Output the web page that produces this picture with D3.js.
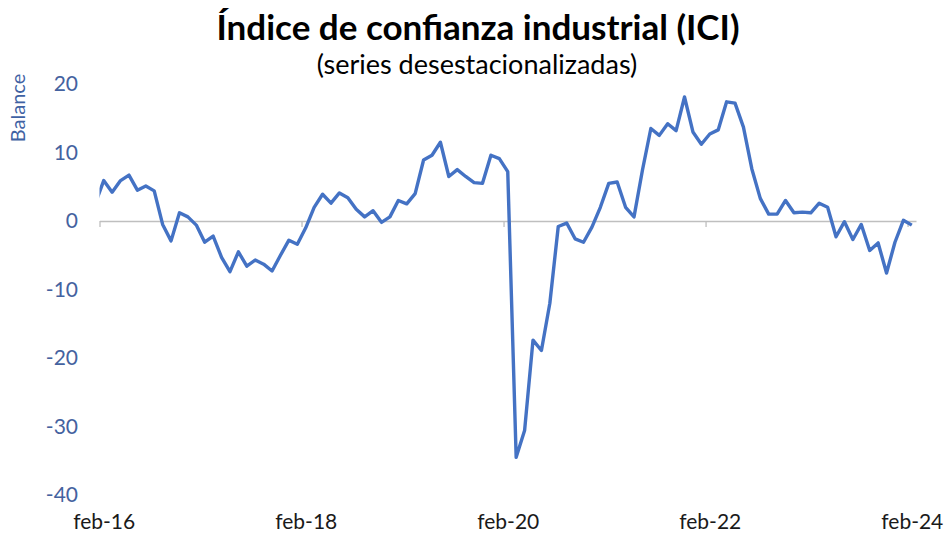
<!DOCTYPE html>
<html>
<head>
<meta charset="utf-8">
<script src="https://cdn.jsdelivr.net/npm/d3@7"></script>
<style>
  body { margin: 0; background: #fff; }
  svg { font-family: Lato, "Noto Sans", sans-serif; }
</style>
</head>
<body>
<div id="chart"></div>
<script>
// meses desde ene-16 (el primero queda recortado por el eje) hasta feb-24
const firstMonth = -1; // ene-16, índice relativo a feb-16
const values = [
  2.5,
  5.9, 4.2, 5.9, 6.7, 4.5, 5.1, 4.4, -0.5, -2.9, 1.2, 0.6, -0.6,
  -3.1, -2.2, -5.3, -7.4, -4.5, -6.6, -5.7, -6.3, -7.3, -5.0, -2.8, -3.4,
  -1.0, 2.0, 3.9, 2.6, 4.1, 3.4, 1.7, 0.6, 1.5, -0.2, 0.6, 3.0,
  2.5, 4.0, 8.9, 9.6, 11.5, 6.5, 7.5, 6.5, 5.6, 5.5, 9.6, 9.1,
  7.2, -34.5, -30.6, -17.4, -18.9, -12.0, -0.8, -0.3, -2.6, -3.1, -0.9, 2.0,
  5.5, 5.7, 2.0, 0.6, 7.4, 13.5, 12.5, 14.2, 13.2, 18.1, 13.0, 11.2,
  12.7, 13.3, 17.4, 17.2, 13.7, 7.6, 3.3, 1.0, 1.0, 3.0, 1.2, 1.3,
  1.2, 2.6, 2.0, -2.3, -0.1, -2.7, -0.5, -4.3, -3.2, -7.6, -3.1, 0.1,
  -0.6
];
const xTicks = [0, 24, 48, 72, 96];
const xLabels = ["feb-16", "feb-18", "feb-20", "feb-22", "feb-24"];
const yTicks = [-40, -30, -20, -10, 0, 10, 20];

const width = 948, height = 535;
const svg = d3.select('#chart').append('svg')
  .attr('width', width).attr('height', height);

const x = d3.scaleLinear().domain([0, 97]).range([99.5, 916]); // meses
const y = d3.scaleLinear().domain([-40, 20]).range([495, 84]);

// títulos
svg.append('text')
  .attr('x', 478).attr('y', 40)
  .attr('text-anchor', 'middle')
  .style('font-size', '35px').style('font-weight', 'bold').style('fill', '#000')
  .text('Índice de confianza industrial (ICI)');
svg.append('text')
  .attr('x', 477).attr('y', 74)
  .attr('text-anchor', 'middle')
  .style('font-size', '27px').style('fill', '#000')
  .text('(series desestacionalizadas)');

// eje y (solo etiquetas)
const gy = svg.append('g')
  .attr('transform', 'translate(78,0)')
  .call(d3.axisLeft(y).tickValues(yTicks).tickSize(0).tickPadding(0)
    .tickFormat(d => String(d)));
gy.select('.domain').remove();
gy.selectAll('text').style('font-size', '21px').style('fill', '#4462a0')
  .style('font-family', 'Lato, "Noto Sans", sans-serif');

svg.append('text')
  .attr('transform', 'translate(25,108) rotate(-90)')
  .attr('text-anchor', 'middle')
  .style('font-size', '20px').style('fill', '#3f62a3')
  .text('Balance');

// eje x en el cero
const gx0 = svg.append('g')
  .attr('transform', `translate(0,${y(0)})`)
  .call(d3.axisBottom(x).tickValues(xTicks).tickSize(6).tickSizeOuter(0).tickFormat(''));
gx0.select('.domain').attr('stroke', '#bfbfbf').attr('stroke-width', 1.3);
gx0.selectAll('.tick line').attr('stroke', '#bfbfbf').attr('stroke-width', 1.3);

// etiquetas del eje x abajo, centradas en el mes
const gx = svg.append('g')
  .attr('transform', 'translate(0,514)')
  .call(d3.axisBottom(x).tickValues(xTicks.map(d => d + 0.5)).tickSize(0).tickPadding(0)
    .tickFormat((d, i) => xLabels[i]));
gx.select('.domain').remove();
gx.selectAll('text').style('font-size', '21px').style('fill', '#1a1a1a')
  .style('font-family', 'Lato, "Noto Sans", sans-serif');

// recorte al área del gráfico
svg.append('clipPath').attr('id', 'clip')
  .append('rect').attr('x', x(0)).attr('y', 0)
  .attr('width', x(97) - x(0)).attr('height', height);

const line = d3.line()
  .x((d, i) => x(firstMonth + i + 0.5))
  .y(d => y(d));

svg.append('path')
  .datum(values)
  .attr('clip-path', 'url(#clip)')
  .attr('fill', 'none')
  .attr('stroke', '#4472c4')
  .attr('stroke-width', 3.4)
  .attr('stroke-linejoin', 'round')
  .attr('d', line);
</script>
</body>
</html>
